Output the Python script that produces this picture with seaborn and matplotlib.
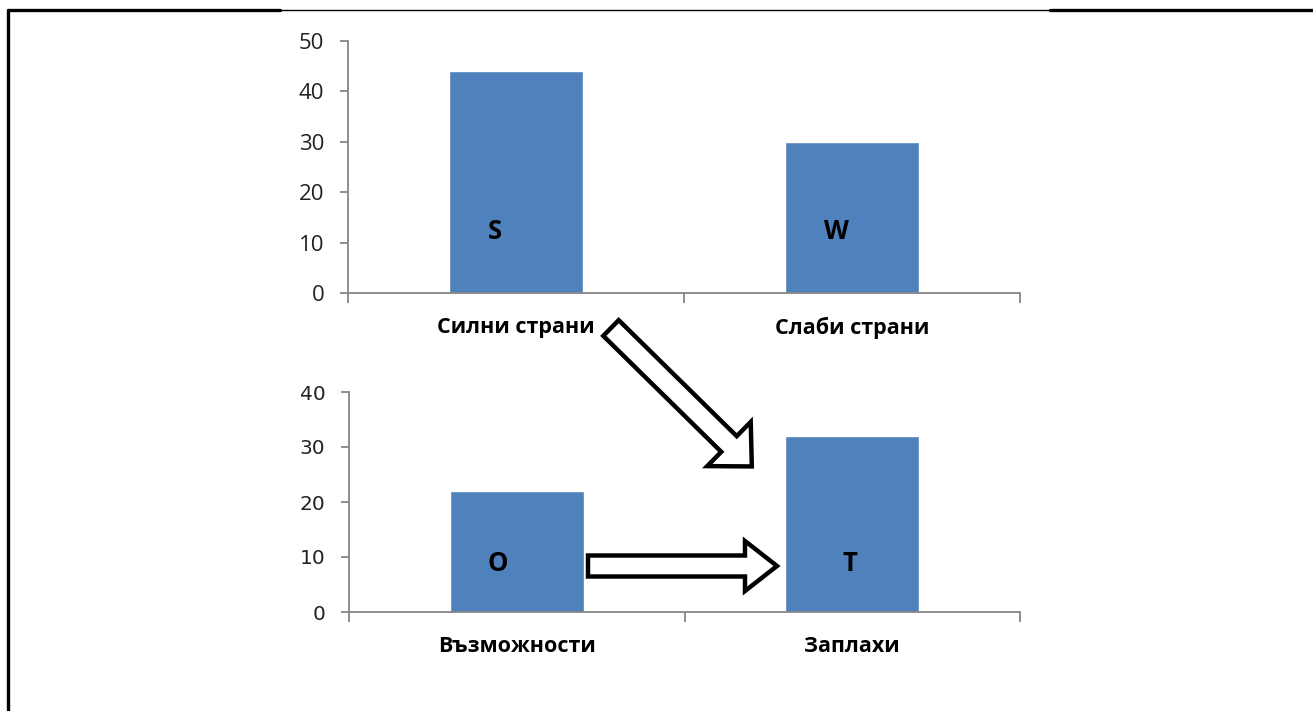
import numpy as np
import pandas as pd
import seaborn as sns
import matplotlib.pyplot as plt
import matplotlib.patches as mpatches
from matplotlib.lines import Line2D
from matplotlib.transforms import Affine2D

# data
top_cats = ['Силни страни', 'Слаби страни']
top_vals = [44, 30]
top_letters = ['S', 'W']

bottom_cats = ['Възможности', 'Заплахи']
bottom_vals = [22, 32]
bottom_letters = ['O', 'T']

bar_color = '#4F81BD'
axis_gray = '#868686'

sns.set_style('white')
plt.rcParams['font.family'] = ['Open Sans', 'DejaVu Sans']

fig = plt.figure(figsize=(13.13, 7.11), dpi=100)
ax1 = fig.add_axes([348 / 1313, 1 - 293 / 711, 672 / 1313, 252 / 711])
ax2 = fig.add_axes([349 / 1313, 1 - 612 / 711, 671 / 1313, 220 / 711])

# pixel coords measured from the top-left corner
px = Affine2D().scale(1 / 100, -1 / 100).translate(0, 7.11) + fig.dpi_scale_trans


def style_axis(ax, cats, vals, letters, ymax, offsets, letter_y, tick_font, tick_size, lab_pad):
    sns.barplot(x=cats, y=vals, ax=ax, color=bar_color, saturation=1, width=0.4)
    ax.set_xlim(-0.5, 1.5)
    ax.set_ylim(0, ymax)
    ax.set_yticks(np.arange(0, ymax + 1, 10))
    for s in ['top', 'right']:
        ax.spines[s].set_visible(False)
    for s in ['left', 'bottom']:
        ax.spines[s].set_color(axis_gray)
        ax.spines[s].set_linewidth(1.3)
    ax.tick_params(axis='y', direction='out', length=6, width=1.3, color=axis_gray,
                   pad=11, labelsize=tick_size, labelcolor='#222222', left=True)
    for t in ax.get_yticklabels():
        t.set_fontfamily(tick_font)
    ax.set_xticks([-0.5, 0.5, 1.5], minor=True)
    ax.tick_params(axis='x', which='minor', direction='out', length=7, width=1.3,
                   color=axis_gray, bottom=True)
    ax.tick_params(axis='x', which='major', length=0, pad=lab_pad, labelsize=15.5)
    for t in ax.get_xticklabels():
        t.set_fontweight('bold')
        t.set_color('black')
    ax.set_xlabel('')
    ax.set_ylabel('')
    for i, (letter, off) in enumerate(zip(letters, offsets)):
        ax.text(i + off, letter_y, letter, ha='center', va='center',
                fontsize=18.5, fontweight='bold', color='black')


style_axis(ax1, top_cats, top_vals, top_letters, 50, [-0.064, -0.045], 12.2,
           'Open Sans', 16, 17)
style_axis(ax2, bottom_cats, bottom_vals, bottom_letters, 40, [-0.058, -0.006], 8.9,
           'DejaVu Sans', 14.5, 17)

# block arrows
diag = mpatches.FancyArrow(611, 328, 118, 116, width=22, head_width=62, head_length=32,
                           length_includes_head=False, transform=px,
                           facecolor='white', edgecolor='black', linewidth=3.2)
horiz = mpatches.FancyArrow(588, 566, 157, 0, width=21, head_width=50, head_length=32,
                            length_includes_head=False, transform=px,
                            facecolor='white', edgecolor='black', linewidth=3.2)
fig.add_artist(diag)
fig.add_artist(horiz)

# page frame
fig.add_artist(Line2D([8, 8], [10, 711], transform=px, color='black', linewidth=2.4))
fig.add_artist(Line2D([8, 280], [10, 10], transform=px, color='black', linewidth=2.4))
fig.add_artist(Line2D([280, 1050], [10, 10], transform=px, color='black', linewidth=1.0))
fig.add_artist(Line2D([1050, 1313], [10, 10], transform=px, color='black', linewidth=2.4))

fig.savefig('out.png', dpi=100)
